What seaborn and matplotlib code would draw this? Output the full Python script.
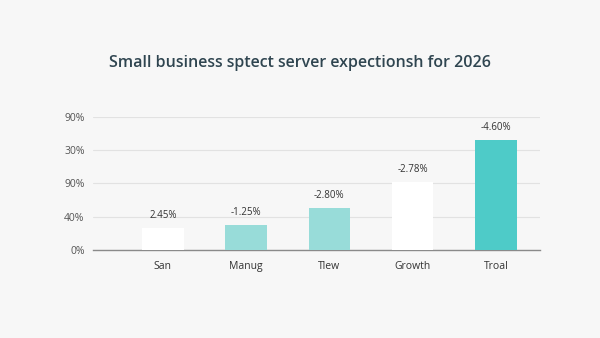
import matplotlib
matplotlib.use("Agg")
import matplotlib.pyplot as plt
import seaborn as sns
import pandas as pd

categories = ["San", "Manug", "Tlew", "Growth", "Troal"]
values = [0.65, 0.75, 1.25, 2.05, 3.3]
value_labels = ["2.45%", "-1.25%", "-2.80%", "-2.78%", "-4.60%"]
ytick_labels = ["0%", "40%", "90%", "30%", "90%"]
bar_colors = ["#ffffff", "#98dcd9", "#98dcd9", "#ffffff", "#4ecbc8"]
title = "Small business sptect server expectionsh for 2026"

sns.set_theme(style="white")
plt.rcParams["font.family"] = ["Open Sans", "DejaVu Sans"]

bg = "#f7f7f7"
fig = plt.figure(figsize=(6, 3.38), dpi=100, facecolor=bg)
ax = fig.add_axes([0.155, 0.2604, 0.745, 0.3944])
ax.set_facecolor(bg)

df = pd.DataFrame({"cat": categories, "val": values})
sns.barplot(data=df, x="cat", y="val", hue="cat", palette=bar_colors,
            width=0.5, legend=False, ax=ax, saturation=1, linewidth=0, zorder=3)

ax.set_ylim(0, 4)
ax.set_xlim(-0.84, 4.53)
ax.set_yticks(range(len(ytick_labels)))
ax.set_yticklabels(ytick_labels, color="#555555", fontsize=7.5)
ax.tick_params(axis="y", length=0, pad=6)
ax.tick_params(axis="x", length=0, pad=8, labelsize=7.5, labelcolor="#333333")
ax.yaxis.grid(True, color="#e2e2e2", linewidth=0.8, zorder=0)
ax.set_axisbelow(True)
ax.set_xlabel("")
ax.set_ylabel("")
for s in ["left", "right", "top"]:
    ax.spines[s].set_visible(False)
ax.spines["bottom"].set_color("#8a8a8a")
ax.spines["bottom"].set_linewidth(1.0)

for i, (v, lab) in enumerate(zip(values, value_labels)):
    ax.annotate(lab, (i, v), xytext=(0, 5), textcoords="offset points",
                ha="center", va="bottom", fontsize=7, color="#333333")

fig.text(0.5, 0.815, title, ha="center", va="center", fontsize=11.5,
         fontweight="semibold", color="#2f4550")

fig.savefig("out.png", dpi=100, facecolor=bg)
